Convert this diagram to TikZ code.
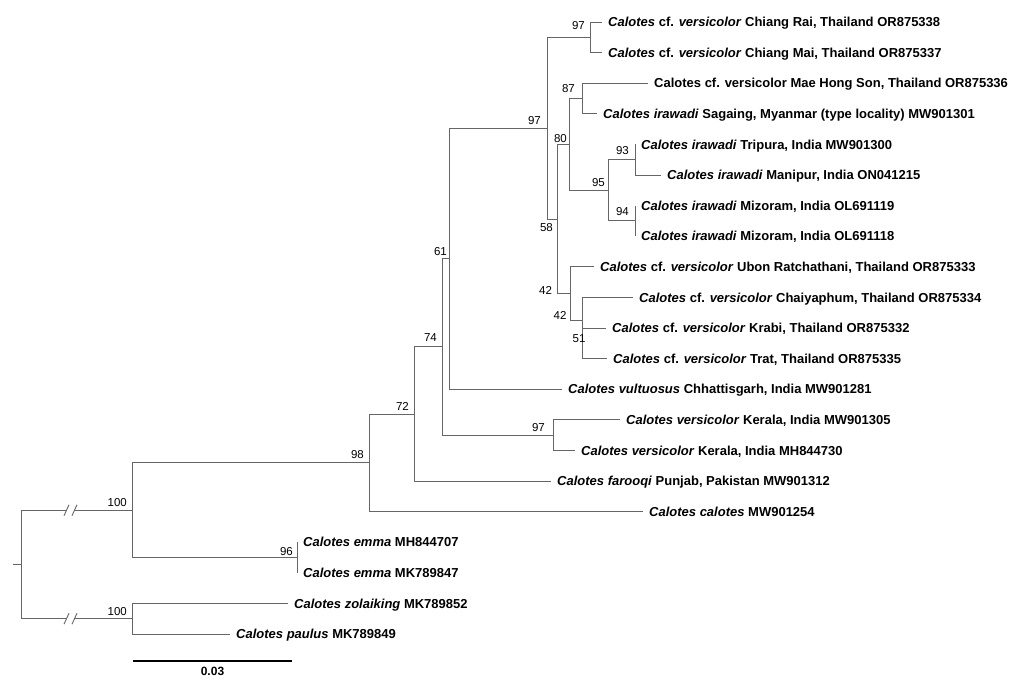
\documentclass[tikz,border=0pt]{standalone}
\usepackage{fontspec}
\setmainfont{Liberation Sans}
\usetikzlibrary{positioning}
\newcommand{\Cv}{\textit{Calotes} cf. \textit{versicolor}}

\begin{document}
\begin{tikzpicture}[x=1pt,y=-1pt,
  branch/.style={draw=black!60,line width=0.9pt},
  elbow/.style={to path={|- (\tikztotarget)}},
  taxon/.style={anchor=west,inner xsep=6pt,inner ysep=0pt,text height=9.3pt,
    text depth=0pt,font=\fontsize{13}{15}\selectfont\bfseries},
  boot/.style={inner sep=0pt,font=\fontsize{11.5}{13}\selectfont}]
  \useasboundingbox (0,0) rectangle (1024,686);

  % taxa
  \node[taxon] (cRai) at (602,22) {\Cv{} Chiang Rai, Thailand OR875338};
  \node[taxon] (cMai) at (602,52.6) {\Cv{} Chiang Mai, Thailand OR875337};
  \node[taxon] (cMae) at (648,83.2) {Calotes cf. versicolor Mae Hong Son, Thailand OR875336};
  \node[taxon] (cSag) at (597,113.8) {\textit{Calotes irawadi} Sagaing, Myanmar (type locality) MW901301};
  \node[taxon] (cTri) at (635,144.4) {\textit{Calotes irawadi} Tripura, India MW901300};
  \node[taxon] (cMan) at (661,175) {\textit{Calotes irawadi} Manipur, India ON041215};
  \node[taxon] (cMiz1) at (635,205.6) {\textit{Calotes irawadi} Mizoram, India OL691119};
  \node[taxon] (cMiz2) at (635,236.2) {\textit{Calotes irawadi} Mizoram, India OL691118};
  \node[taxon] (cUbo) at (594,266.8) {\Cv{} Ubon Ratchathani, Thailand OR875333};
  \node[taxon] (cCha) at (633,297.4) {\Cv{} Chaiyaphum, Thailand OR875334};
  \node[taxon] (cKra) at (606,328) {\Cv{} Krabi, Thailand OR875332};
  \node[taxon] (cTra) at (607,358.6) {\Cv{} Trat, Thailand OR875335};
  \node[taxon] (cVul) at (562,389.2) {\textit{Calotes vultuosus} Chhattisgarh, India MW901281};
  \node[taxon] (cKer1) at (620,419.8) {\textit{Calotes versicolor} Kerala, India MW901305};
  \node[taxon] (cKer2) at (575,450.4) {\textit{Calotes versicolor} Kerala, India MH844730};
  \node[taxon] (cFar) at (551,481) {\textit{Calotes farooqi} Punjab, Pakistan MW901312};
  \node[taxon] (cCal) at (643,511.6) {\textit{Calotes calotes} MW901254};
  \node[taxon] (cEm1) at (297,542.2) {\textit{Calotes emma} MH844707};
  \node[taxon] (cEm2) at (297,572.8) {\textit{Calotes emma} MK789847};
  \node[taxon] (cZol) at (288,603.4) {\textit{Calotes zolaiking} MK789852};
  \node[taxon] (cPau) at (230,634) {\textit{Calotes paulus} MK789849};

  % internal nodes
  \coordinate (n97c) at (590,37.3);
  \coordinate (n87) at (582,98.5);
  \coordinate (n93) at (635,159.7);
  \coordinate (n94) at (635,220.9);
  \coordinate (n95) at (608,190.3);
  \coordinate (n80) at (569,144.4);
  \coordinate (n51) at (582,343.3);
  \coordinate (n42b) at (582,320.4);
  \coordinate (n42a) at (570,293.6);
  \coordinate (n58) at (557,219);
  \coordinate (n97a) at (547,128.2);
  \coordinate (n61) at (449,258.7);
  \coordinate (n97k) at (553,435.1);
  \coordinate (n74) at (442,346.9);
  \coordinate (n72) at (414,414);
  \coordinate (n98) at (369,462.8);
  \coordinate (n96) at (297,557.5);
  \coordinate (n100a) at (132,510.2);
  \coordinate (n100b) at (132,618.7);
  \coordinate (root) at (21,564.4);
  \coordinate (stem) at (13,564.4);
  \coordinate (cut1a) at (66.5,510.2);
  \coordinate (cut1b) at (74.5,510.2);
  \coordinate (cut2a) at (66.5,618.7);
  \coordinate (cut2b) at (74.5,618.7);

  % branches
  \path[branch]
    (n97c) edge[elbow] (cRai.west)
    (n97c) edge[elbow] (cMai.west)
    (n87) edge[elbow] (cMae.west)
    (n87) edge[elbow] (cSag.west)
    (n93) edge[elbow] (cTri.west)
    (n93) edge[elbow] (cMan.west)
    (n94) edge[elbow] (cMiz1.west)
    (n94) edge[elbow] (cMiz2.west)
    (n95) edge[elbow] (n93)
    (n95) edge[elbow] (n94)
    (n80) edge[elbow] (n87)
    (n80) edge[elbow] (n95)
    (n51) edge[elbow] (cKra.west)
    (n51) edge[elbow] (cTra.west)
    (n42b) edge[elbow] (cCha.west)
    (n42b) edge[elbow] (n51)
    (n42a) edge[elbow] (cUbo.west)
    (n42a) edge[elbow] (n42b)
    (n58) edge[elbow] (n80)
    (n58) edge[elbow] (n42a)
    (n97a) edge[elbow] (n97c)
    (n97a) edge[elbow] (n58)
    (n61) edge[elbow] (n97a)
    (n61) edge[elbow] (cVul.west)
    (n97k) edge[elbow] (cKer1.west)
    (n97k) edge[elbow] (cKer2.west)
    (n74) edge[elbow] (n61)
    (n74) edge[elbow] (n97k)
    (n72) edge[elbow] (n74)
    (n72) edge[elbow] (cFar.west)
    (n98) edge[elbow] (n72)
    (n98) edge[elbow] (cCal.west)
    (n96) edge[elbow] (cEm1.west)
    (n96) edge[elbow] (cEm2.west)
    (n100a) edge[elbow] (n98)
    (n100a) edge[elbow] (n96)
    (n100b) edge[elbow] (cZol.west)
    (n100b) edge[elbow] (cPau.west)
    (root) edge[elbow] (cut1a)
    (root) edge[elbow] (cut2a)
    (cut1b) edge (n100a)
    (cut2b) edge (n100b)
    (stem) edge (root);

  % broken branches
  \foreach \c in {cut1a,cut1b,cut2a,cut2b}
    \draw[branch] ([shift={(-2.5,5.5)}]\c) -- ([shift={(2.5,-5.5)}]\c);

  % support values
  \node[boot,above left=7pt and 5pt of n97c] (b97c) {97};
  \node[boot,above left=5.5pt and 7pt of n87] (b87) {87};
  \node[boot,above left=3pt and 6pt of n97a] (b97a) {97};
  \node[boot,above left=1.5pt and 2pt of n80] (b80) {80};
  \node[boot,above left=5pt and 6pt of n93] (b93) {93};
  \node[boot,above left=3pt and 3pt of n95] (b95) {95};
  \node[boot,above left=5pt and 6pt of n94] (b94) {94};
  \node[boot,below left=4pt and 4pt of n58] (b58) {58};
  \node[boot] (b42a) at (545.5,290) {42};
  \node[boot] (b42b) at (560,315) {42};
  \node[boot] (b51) at (579,339) {51};
  \node[boot,above left=3pt and 2pt of n61] (b61) {61};
  \node[boot,above left=5pt and 5pt of n74] (b74) {74};
  \node[boot,above left=3pt and 5pt of n72] (b72) {72};
  \node[boot,above left=4pt and 5pt of n98] (b98) {98};
  \node[boot,above left=3pt and 8pt of n97k] (b97k) {97};
  \node[boot,above left=2pt and 4pt of n96] (b96) {96};
  \node[boot,above left=3pt and 5pt of n100a] (b100a) {100};
  \node[boot,above left=3pt and 5pt of n100b] (b100b) {100};

  % scale bar
  \coordinate (sb1) at (133,661);
  \coordinate (sb2) at (292,661);
  \draw[line width=2pt] (sb1) -- node[below=5.5pt,inner sep=0pt,
    font=\fontsize{12}{14}\selectfont\bfseries] (sbl) {0.03} (sb2);
\end{tikzpicture}
\end{document}
